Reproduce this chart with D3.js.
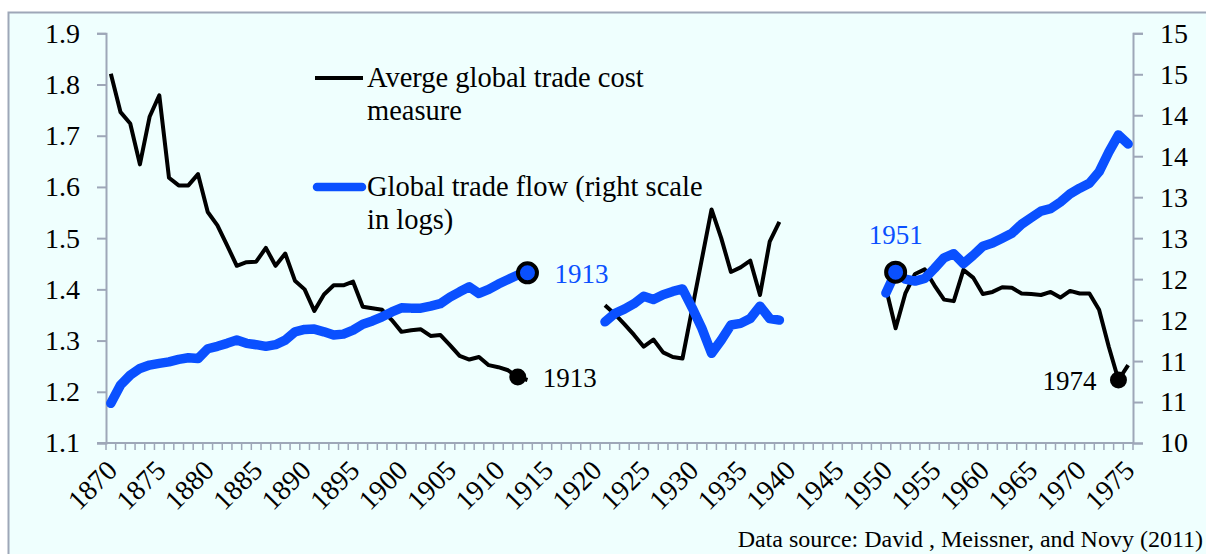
<!DOCTYPE html>
<html>
<head>
<meta charset="utf-8">
<script src="https://cdn.jsdelivr.net/npm/d3@7/dist/d3.min.js"></script>
<style>
  html, body { margin: 0; padding: 0; background: #ffffff; }
  svg { display: block; }
  text { font-family: "Liberation Serif", "Times New Roman", serif; }
</style>
</head>
<body>
<svg id="chart" width="1206" height="554"></svg>
<script>
// ---- Data ----
const years = [1870,1871,1872,1873,1874,1875,1876,1877,1878,1879,1880,1881,1882,1883,1884,1885,1886,1887,1888,1889,
  1890,1891,1892,1893,1894,1895,1896,1897,1898,1899,1900,1901,1902,1903,1904,1905,1906,1907,1908,1909,
  1910,1911,1912,1913,1914,1915,1916,1917,1918,1919,1920,1921,1922,1923,1924,1925,1926,1927,1928,1929,
  1930,1931,1932,1933,1934,1935,1936,1937,1938,1939,1940,1941,1942,1943,1944,1945,1946,1947,1948,1949,
  1950,1951,1952,1953,1954,1955,1956,1957,1958,1959,1960,1961,1962,1963,1964,1965,1966,1967,1968,1969,
  1970,1971,1972,1973,1974,1975];

const xTickLabels = [1870,1875,1880,1885,1890,1895,1900,1905,1910,1915,1920,1925,1930,1935,1940,1945,1950,1955,1960,1965,1970,1975];
const leftTicks = [1.1,1.2,1.3,1.4,1.5,1.6,1.7,1.8,1.9];
const rightTicks = [10,10.5,11,11.5,12,12.5,13,13.5,14,14.5,15];

// Average global trade cost measure (left axis)
const tradeCost = [
  1.821,1.746,1.724,1.644,1.737,1.779,1.618,1.603,1.603,1.625, // 1870-79
  1.551,1.525,1.486,1.446,1.453,1.454,1.481,1.446,1.470,1.417, // 1880-89
  1.400,1.358,1.390,1.408,1.408,1.415,1.366,1.363,1.360,1.340, // 1890-99
  1.317,1.320,1.322,1.309,1.311,1.291,1.270,1.263,1.268,1.252, // 1900-09
  1.248,1.242,1.229,1.223,null,null,null,null,null,null,        // 1910-19
  null,1.369,1.352,1.332,1.311,1.288,1.302,1.277,1.268,1.265,   // 1920-29
  1.362,1.459,1.556,1.500,1.434,1.443,1.456,1.389,1.493,1.532,  // 1930-39
  null,null,null,null,null,null,null,null,null,null,            // 1940-49
  1.402,1.324,1.392,1.430,1.439,1.408,1.380,1.377,1.438,1.423,  // 1950-59
  1.391,1.395,1.404,1.403,1.392,1.391,1.389,1.395,1.384,1.397,  // 1960-69
  1.392,1.392,1.360,1.288,1.223,1.252                           // 1970-75
];

// Global trade flow, logs (right axis)
const tradeFlow = [
  10.484,10.707,10.829,10.910,10.951,10.972,10.990,11.020,11.040,11.030, // 1870-79
  11.150,11.180,11.216,11.256,11.216,11.200,11.180,11.200,11.256,11.357, // 1880-89
  11.386,11.390,11.357,11.317,11.329,11.378,11.450,11.490,11.540,11.600, // 1890-99
  11.650,11.646,11.646,11.670,11.700,11.780,11.845,11.906,11.825,11.874, // 1900-09
  11.940,11.996,12.050,12.077,null,null,null,null,null,null,             // 1910-19
  null,11.479,11.580,11.634,11.700,11.790,11.750,11.810,11.850,11.880,   // 1920-29
  11.650,11.400,11.094,11.256,11.440,11.460,11.520,11.670,11.520,11.500, // 1930-39
  null,null,null,null,null,null,null,null,null,null,                     // 1940-49
  11.830,12.085,12.000,11.976,12.008,12.130,12.260,12.310,12.190,12.290, // 1950-59
  12.400,12.440,12.500,12.560,12.670,12.750,12.830,12.860,12.940,13.040, // 1960-69
  13.110,13.170,13.310,13.550,13.760,13.650                              // 1970-75
];

const legendCost = ["Averge global trade cost", "measure"];
const legendFlow = ["Global trade flow (right scale", "in logs)"];
const sourceText = "Data source: David , Meissner, and Novy (2011)";

// markers: [year, label]
const costMarkers = [[1912, "1913"], [1974, "1974"]];
const flowMarkers = [[1913, "1913"], [1951, "1951"]];

// ---- Layout ----
const W = 1206, H = 554;
const plot = {left: 106, right: 1133, top: 33.3, bottom: 443};
const BLUE = "#0a50ff";
const AXIS = "#9ea7b8";
const TICKFONT = "28px";

const svg = d3.select("#chart");

svg.append("rect").attr("x", 0).attr("y", 0).attr("width", W).attr("height", H).attr("fill", "#ffffff");
svg.append("rect").attr("x", 8.5).attr("y", 12.5).attr("width", W + 10).attr("height", H + 10)
  .attr("fill", "#effffe").attr("stroke", AXIS).attr("stroke-width", 2);

const x = d3.scaleBand().domain(years).range([plot.left, plot.right]).padding(0);
const cx = yr => x(yr) + x.bandwidth() / 2;
const yL = d3.scaleLinear().domain([1.1, 1.9]).range([plot.bottom, plot.top]);
const yR = d3.scaleLinear().domain([10, 15]).range([plot.bottom, plot.top]);

// Left axis
const gL = svg.append("g").attr("transform", `translate(${plot.left},0)`)
  .call(d3.axisLeft(yL).tickValues(leftTicks).tickFormat(d3.format(".1f")).tickSize(9).tickPadding(17));
// Right axis
const gR = svg.append("g").attr("transform", `translate(${plot.right},0)`)
  .call(d3.axisRight(yR).tickValues(rightTicks).tickFormat(d3.format(".0f")).tickSize(10).tickPadding(17));
[gL, gR].forEach(g => {
  g.select(".domain").attr("stroke", AXIS).attr("stroke-width", 2);
  g.selectAll(".tick line").attr("stroke", AXIS).attr("stroke-width", 2);
  g.selectAll(".tick text").attr("fill", "#000").style("font-size", TICKFONT)
    .style("font-family", '"Liberation Serif", "Times New Roman", serif');
});

// X axis (category boundaries)
const gX = svg.append("g");
gX.append("line").attr("x1", plot.left - 9).attr("x2", plot.right).attr("y1", plot.bottom).attr("y2", plot.bottom)
  .attr("stroke", AXIS).attr("stroke-width", 2);
const bounds = years.map(yr => x(yr)).concat([plot.right]);
gX.selectAll("line.tk").data(bounds).join("line").attr("class", "tk")
  .attr("x1", d => d).attr("x2", d => d).attr("y1", plot.bottom).attr("y2", plot.bottom + 7)
  .attr("stroke", AXIS).attr("stroke-width", 1.5);
gX.selectAll("text.xl").data(xTickLabels).join("text").attr("class", "xl")
  .attr("transform", d => `translate(${cx(d) + 8},${plot.bottom + 29}) rotate(-45)`)
  .attr("text-anchor", "end").style("font-size", TICKFONT).attr("fill", "#000").text(d => d);

// Lines
const costLine = d3.line().defined(d => d[1] != null).x(d => cx(d[0])).y(d => yL(d[1]));
const flowLine = d3.line().defined(d => d[1] != null).x(d => cx(d[0])).y(d => yR(d[1]));
const costData = years.map((yr, i) => [yr, tradeCost[i]]);
const flowData = years.map((yr, i) => [yr, tradeFlow[i]]);

svg.append("path").datum(costData).attr("d", costLine).attr("fill", "none")
  .attr("stroke", "#000").attr("stroke-width", 4).attr("stroke-linejoin", "round");
svg.append("path").datum(flowData).attr("d", flowLine).attr("fill", "none")
  .attr("stroke", BLUE).attr("stroke-width", 9.5).attr("stroke-linejoin", "round").attr("stroke-linecap", "round");

// Markers
const costVal = yr => tradeCost[years.indexOf(yr)];
const flowVal = yr => tradeFlow[years.indexOf(yr)];
costMarkers.forEach(([yr]) => {
  svg.append("circle").attr("cx", cx(yr)).attr("cy", yL(costVal(yr))).attr("r", 8.5).attr("fill", "#000");
});
flowMarkers.forEach(([yr]) => {
  svg.append("circle").attr("cx", cx(yr)).attr("cy", yR(flowVal(yr))).attr("r", 9.5)
    .attr("fill", BLUE).attr("stroke", "#000").attr("stroke-width", 4);
});

// Marker labels
svg.append("text").attr("x", cx(costMarkers[0][0]) + 25).attr("y", yL(costVal(costMarkers[0][0])) + 10)
  .style("font-size", "27px").attr("fill", "#000").text(costMarkers[0][1]);
svg.append("text").attr("x", cx(costMarkers[1][0]) - 22).attr("y", yL(costVal(costMarkers[1][0])) + 10)
  .attr("text-anchor", "end").style("font-size", "27px").attr("fill", "#000").text(costMarkers[1][1]);
svg.append("text").attr("x", cx(flowMarkers[0][0]) + 27).attr("y", yR(flowVal(flowMarkers[0][0])) + 10)
  .style("font-size", "27px").attr("fill", BLUE).text(flowMarkers[0][1]);
svg.append("text").attr("x", cx(flowMarkers[1][0])).attr("y", yR(flowVal(flowMarkers[1][0])) - 28)
  .attr("text-anchor", "middle").style("font-size", "27px").attr("fill", BLUE).text(flowMarkers[1][1]);

// Legend
const lg = svg.append("g");
lg.append("line").attr("x1", 315).attr("x2", 363).attr("y1", 78).attr("y2", 78)
  .attr("stroke", "#000").attr("stroke-width", 4);
lg.append("line").attr("x1", 317).attr("x2", 362).attr("y1", 187).attr("y2", 187)
  .attr("stroke", BLUE).attr("stroke-width", 8.5).attr("stroke-linecap", "round");
legendCost.forEach((t, i) => lg.append("text").attr("x", 367).attr("y", 87 + i * 33)
  .style("font-size", "28.5px").attr("fill", "#000").text(t));
legendFlow.forEach((t, i) => lg.append("text").attr("x", 367).attr("y", 196 + i * 33)
  .style("font-size", "28.5px").attr("fill", "#000").text(t));

// Source
svg.append("text").attr("x", 1203).attr("y", 547).attr("text-anchor", "end")
  .style("font-size", "24px").attr("fill", "#000").text(sourceText);
</script>
</body>
</html>
